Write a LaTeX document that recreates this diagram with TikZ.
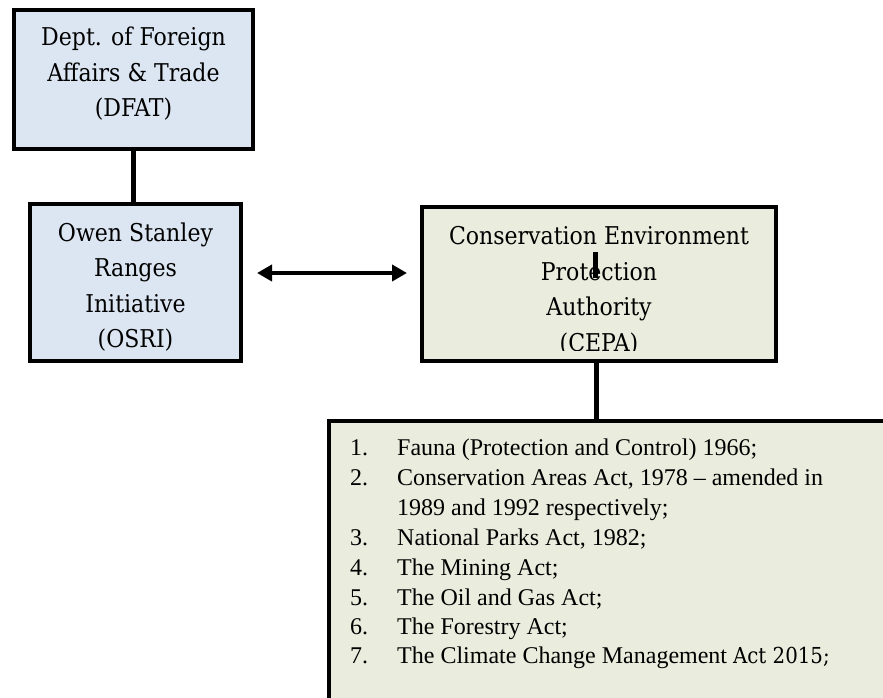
\documentclass[tikz,border=0pt]{standalone}
\usepackage{fontspec}
\setmainfont{Liberation Serif}
\IfFontExistsTF{DejaVu Serif Condensed}
  {\newfontfamily\cambria{DejaVu Serif Condensed}\def\cambsize{24.5}\def\actsize{22}}
  {\newfontfamily\cambria{DejaVu Serif}\def\cambsize{22.5}\def\actsize{20}}
\usetikzlibrary{arrows.meta}
\definecolor{boxblue}{HTML}{DCE6F2}
\definecolor{boxgreen}{HTML}{EAEDDD}
\tikzset{
  panel/.style={draw=black, line width=4pt, inner sep=0pt, outer sep=0pt},
  bluepanel/.style={panel, fill=boxblue},
  greenpanel/.style={panel, fill=boxgreen},
  boxtext/.style={align=center, inner sep=0pt, font=\cambria\fontsize{\cambsize}{35.5}\selectfont},
  link/.style={line width=5pt, draw=black},
  listtext/.style={anchor=base west, inner sep=0pt, font=\fontsize{24}{30}\selectfont},
  bigtri/.tip={Triangle[length=15pt,width=16pt]},
}
\begin{document}
\begin{tikzpicture}[x=1pt,y=-1pt]
\useasboundingbox (0,0) rectangle (883,698);

% boxes
\node[bluepanel, minimum width=239pt, minimum height=139pt] (dfat) at (133.5,79.5) {};
\node[boxtext] (dfattext) at (133.5,74) {Dept. of Foreign\\Affairs \& Trade\\(DFAT)};

\node[bluepanel, minimum width=211pt, minimum height=157pt] (osri) at (135.5,282.5) {};
\node[boxtext] (osritext) at (135.5,287) {Owen Stanley\\Ranges\\Initiative\\(OSRI)};

\node[greenpanel, minimum width=354pt, minimum height=154pt] (cepa) at (599,284) {};
\begin{scope}
  \clip (420,205) rectangle (778,350);
  \node[boxtext] (cepatext) at (599,291) {Conservation Environment\\Protection\\Authority\\(CEPA)};
\end{scope}

% list box (runs off the page at right and bottom)
\node[fill=boxgreen, inner sep=0pt, outer sep=0pt, minimum width=580pt, minimum height=300pt, anchor=north west] (acts) at (329,421) {};
\draw[line width=4pt, line join=miter] (acts.south west) -- (acts.north west) -- (acts.north east);

% connectors
\draw[link] (dfat.south) -- (dfat.south |- osri.north);
\coordinate (arrowy) at (0,273);
\draw[line width=4.5pt, bigtri-bigtri, shorten <=16pt, shorten >=15pt] (osri.east |- arrowy) -- (cepa.west |- arrowy);
\coordinate (cx) at (596,0);
\draw[link] (cepa.south -| cx) -- (acts.north -| cx);
\coordinate (stubtop) at (595,252);
\coordinate (stubbot) at (595,278);
\draw[link] (stubtop) -- (stubbot);

% list
\node[listtext] (n1) at (350,455) {1.};
\node[listtext] (t1) at (397,455) {Fauna (Protection and Control) 1966;};
\node[listtext] (n2) at (350,485) {2.};
\node[listtext] (t2) at (397,485) {Conservation Areas Act, 1978 -- amended in};
\node[listtext] (t2b) at (397,515) {1989 and 1992 respectively;};
\node[listtext] (n3) at (350,545) {3.};
\node[listtext] (t3) at (397,545) {National Parks Act, 1982;};
\node[listtext] (n4) at (350,575) {4.};
\node[listtext] (t4) at (397,575) {The Mining Act;};
\node[listtext] (n5) at (350,605) {5.};
\node[listtext] (t5) at (397,605) {The Oil and Gas Act;};
\node[listtext] (n6) at (350,634) {6.};
\node[listtext] (t6) at (397,634) {The Forestry Act;};
\node[listtext] (n7) at (350,663) {7.};
\node[listtext] (t7) at (397,663) {The Climate Change Management {\cambria\fontsize{\actsize}{30}\selectfont Act 2015;}};
\end{tikzpicture}
\end{document}
